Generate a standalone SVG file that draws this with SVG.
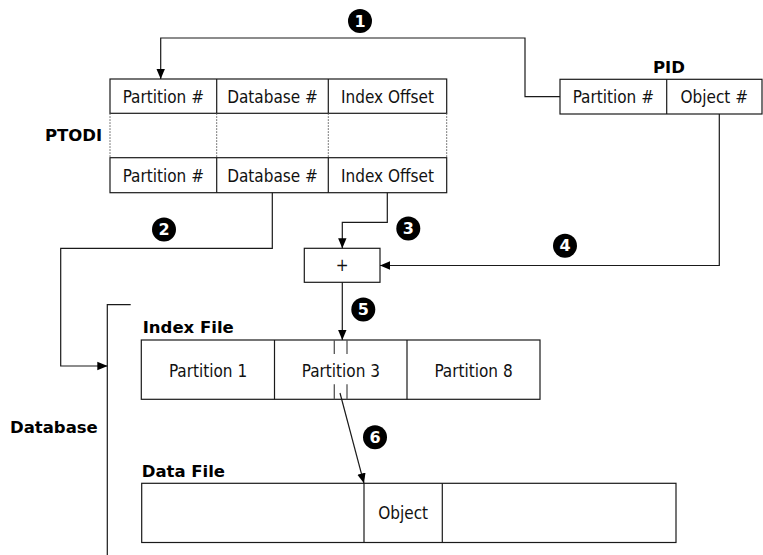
<svg xmlns="http://www.w3.org/2000/svg" width="763" height="555" viewBox="0 0 763 555">
  <style>
    .box { fill: #fff; stroke: #1a1a1a; stroke-width: 1.2; }
    .ln { fill: none; stroke: #1a1a1a; stroke-width: 1.2; }
    .dot { fill: none; stroke: #555; stroke-width: 1; stroke-dasharray: 1.5 1.5; }
    .brk { fill: none; stroke: #555; stroke-width: 1.3; }
    .cell { font-family: "DejaVu Sans Condensed", "Noto Sans", "DejaVu Sans", sans-serif; font-size: 17px; fill: #111; text-anchor: middle; }
    .lbl { font-family: "DejaVu Sans", sans-serif; font-weight: bold; font-size: 16.5px; fill: #000; }
    .num { font-family: "DejaVu Sans", sans-serif; font-weight: bold; font-size: 16px; fill: #fff; text-anchor: middle; }
    .step circle { fill: #000; }
  </style>
  <defs>
    <marker id="arrow" markerUnits="userSpaceOnUse" markerWidth="10" markerHeight="10" viewBox="0 0 10 10" refX="10" refY="5" orient="auto">
      <path d="M0,0.8 L10,5 L0,9.2 Z" fill="#000"/>
    </marker>
  </defs>

  <rect width="763" height="555" fill="#fff"/>

  <!-- PTODI table -->
  <g id="ptodi">
    <rect class="box" x="110" y="79" width="336.7" height="34.3"/>
    <line class="ln" x1="216.7" y1="79" x2="216.7" y2="113.3"/>
    <line class="ln" x1="328.3" y1="79" x2="328.3" y2="113.3"/>
    <text class="cell" x="163.3" y="102.5">Partition #</text>
    <text class="cell" x="272.5" y="102.5">Database #</text>
    <text class="cell" x="387.5" y="102.5">Index Offset</text>

    <line class="dot" x1="110" y1="113.3" x2="110" y2="157.7"/>
    <line class="dot" x1="216.7" y1="113.3" x2="216.7" y2="157.7"/>
    <line class="dot" x1="328.3" y1="113.3" x2="328.3" y2="157.7"/>
    <line class="dot" x1="446.7" y1="113.3" x2="446.7" y2="157.7"/>

    <rect class="box" x="110" y="157.7" width="336.7" height="35"/>
    <line class="ln" x1="216.7" y1="157.7" x2="216.7" y2="192.7"/>
    <line class="ln" x1="328.3" y1="157.7" x2="328.3" y2="192.7"/>
    <text class="cell" x="163.3" y="181.7">Partition #</text>
    <text class="cell" x="272.5" y="181.7">Database #</text>
    <text class="cell" x="387.5" y="181.7">Index Offset</text>

    <text class="lbl" x="45" y="140.7">PTODI</text>
  </g>

  <!-- PID -->
  <g id="pid">
    <text class="lbl" x="669" y="73.3" text-anchor="middle">PID</text>
    <rect class="box" x="560" y="79.3" width="202" height="34.7"/>
    <line class="ln" x1="666.7" y1="79.3" x2="666.7" y2="114"/>
    <text class="cell" x="613.3" y="102.8">Partition #</text>
    <text class="cell" x="714.3" y="102.8">Object #</text>
  </g>

  <!-- adder -->
  <g id="adder">
    <rect class="box" x="304.3" y="248.3" width="75.7" height="34"/>
    <text class="cell" x="342.2" y="271">+</text>
  </g>

  <!-- database bracket and label -->
  <g id="database">
    <path class="ln" d="M130.7,304.7 H107.3 V555"/>
    <text class="lbl" x="10" y="433">Database</text>
  </g>

  <!-- index file -->
  <g id="index-file">
    <text class="lbl" x="142.7" y="333.3">Index File</text>
    <rect class="box" x="141.3" y="340" width="398.7" height="59.3"/>
    <line class="ln" x1="274.5" y1="340" x2="274.5" y2="399.3"/>
    <line class="ln" x1="407" y1="340" x2="407" y2="399.3"/>
    <text class="cell" x="208" y="376.5">Partition 1</text>
    <text class="cell" x="340.8" y="376.5">Partition 3</text>
    <text class="cell" x="473.5" y="376.5">Partition 8</text>
    <line class="brk" x1="334.3" y1="340" x2="334.3" y2="354"/>
    <line class="brk" x1="347" y1="340" x2="347" y2="354"/>
    <line class="brk" x1="334.3" y1="384.3" x2="334.3" y2="399.3"/>
    <line class="brk" x1="347" y1="384.3" x2="347" y2="399.3"/>
  </g>

  <!-- data file -->
  <g id="data-file">
    <text class="lbl" x="141.7" y="477">Data File</text>
    <rect class="box" x="141.7" y="483.3" width="534.3" height="59.2"/>
    <line class="ln" x1="364" y1="483.3" x2="364" y2="542.5"/>
    <line class="ln" x1="442.3" y1="483.3" x2="442.3" y2="542.5"/>
    <text class="cell" x="403.2" y="518.8">Object</text>
  </g>

  <!-- connectors -->
  <g id="connectors">
    <path class="ln" d="M560,96.7 H525 V38 H160.7 V79" marker-end="url(#arrow)"/>
    <path class="ln" d="M272.3,192.7 V248.3 H60.7 V366 H107.3" marker-end="url(#arrow)"/>
    <path class="ln" d="M387.3,192.7 V222.3 H342.3 V248.3" marker-end="url(#arrow)"/>
    <path class="ln" d="M719.3,114 V265.5 H380" marker-end="url(#arrow)"/>
    <path class="ln" d="M342.3,282.3 V340" marker-end="url(#arrow)"/>
    <path class="ln" d="M340,393 L364,483.3" marker-end="url(#arrow)"/>
  </g>

  <!-- step numbers -->
  <g id="step-1" class="step"><circle cx="360" cy="21" r="12"/><text class="num" x="360" y="26.7">1</text></g>
  <g id="step-2" class="step"><circle cx="164" cy="229.5" r="12"/><text class="num" x="164" y="235.2">2</text></g>
  <g id="step-3" class="step"><circle cx="408.3" cy="228.5" r="12"/><text class="num" x="408.3" y="234.2">3</text></g>
  <g id="step-4" class="step"><circle cx="565" cy="245.7" r="12"/><text class="num" x="565" y="251.4">4</text></g>
  <g id="step-5" class="step"><circle cx="363.3" cy="309.5" r="12"/><text class="num" x="363.3" y="315.2">5</text></g>
  <g id="step-6" class="step"><circle cx="375" cy="437.3" r="12"/><text class="num" x="375" y="443">6</text></g>
</svg>
